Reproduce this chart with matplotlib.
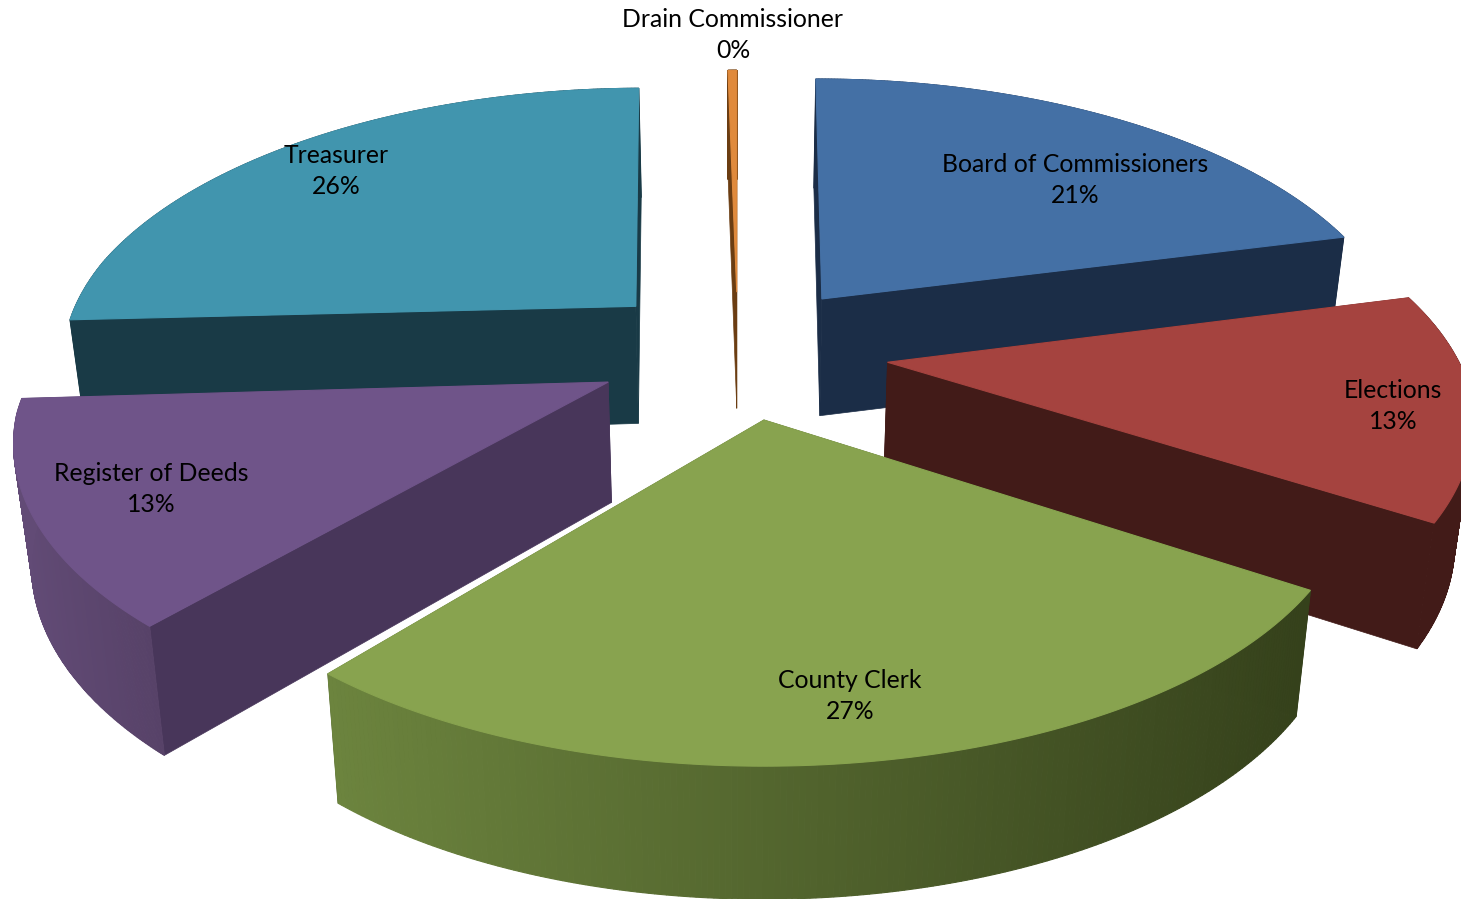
import numpy as np
import matplotlib
matplotlib.use('Agg')
import matplotlib.pyplot as plt
from matplotlib.colors import to_rgb

names = ['Board of Commissioners', 'Elections', 'County Clerk', 'Register of Deeds', 'Treasurer', 'Drain Commissioner']
shares = [21, 13, 27, 13, 26, 0.3]
pct_labels = ['21%', '13%', '27%', '13%', '26%', '0%']
top_colors = ['#4470a5', '#a5433f', '#88a34f', '#6f5489', '#4195ae', '#e08a3c']
side_colors = ['#1b2d47', '#421b18', '#35411b', '#48365a', '#193a46', '#6b3d12']
arc_left = ['#1b2d47', '#421b18', '#6c843e', '#624b76', '#193a46', '#6b3d12']
arc_right = ['#1b2d47', '#421b18', '#35411b', '#574268', '#193a46', '#6b3d12']
explode = 0.25
nudge = [(0, 0), (7, 2), (1, 0), (0, 0), (0, 0), (0, 6)]
radius = [0.99, 1, 1.01, 1.015, 0.98, 1]
# small corrections of the slice edges, degrees
start_shift = [0, 0, 1.5, 2.5, 1.5, 0]
end_shift = [0.5, 0, 0, 1, 0.5, 0]
label_pos = [(1075, 180), (1393, 406), (850, 696), (151, 489), (336, 171), (733, 35)]
draw_order = [4, 5, 0, 1, 3, 2]

# perspective camera, fitted on the picture
cx, cy = 738, 350
rx, ry, persp = 572, 269, 0.213
depth0, depth_pow, inset = 119, 0.46, 0.975


def project(X, Y):
    s = 1 / (1 + persp * Y)
    return rx * X * s, -ry * Y * s, s


def lower(x, y, s):
    return cx + (x - cx) * inset, y + depth0 * s ** depth_pow


fig = plt.figure(figsize=(14.61, 8.99), dpi=100)
ax = fig.add_axes([0, 0, 1, 1])
ax.set_xlim(0, 1461)
ax.set_ylim(899, 0)
ax.axis('off')

edges = np.cumsum([0] + shares) / sum(shares) * 2 * np.pi

for i in draw_order:
    a0, a1 = edges[i], edges[i + 1]
    mid = (a0 + a1) / 2
    off_x, off_y, tip_s = project(explode * np.sin(mid), explode * np.cos(mid))
    tip_x, tip_y = cx + off_x + nudge[i][0], cy + off_y + nudge[i][1]

    t = np.linspace(a0 + np.radians(start_shift[i]), a1 + np.radians(end_shift[i]), 200)
    x, y, s = project(radius[i] * np.sin(t), radius[i] * np.cos(t))
    # far points run towards the middle
    conv = np.minimum(1, (s / tip_s) ** 0.5)
    x, y = cx + off_x * conv + nudge[i][0] + x, tip_y + y
    xb, yb = lower(x, y, s)
    tip_xb, tip_yb = lower(tip_x, tip_y, tip_s)

    # radial walls
    ax.fill([tip_x, x[0], xb[0], tip_xb], [tip_y, y[0], yb[0], tip_yb], color=side_colors[i], lw=0.5)
    ax.fill([tip_x, x[-1], xb[-1], tip_xb], [tip_y, y[-1], yb[-1], tip_yb], color=side_colors[i], lw=0.5)

    # outer wall, cut in strips for the shading
    c_l, c_r = np.array(to_rgb(arc_left[i])), np.array(to_rgb(arc_right[i]))
    for j in range(len(t) - 1):
        f = ((x[j] + x[j + 1]) / 2 - x.min()) / (x.max() - x.min())
        c = c_l + (c_r - c_l) * f
        ax.fill([x[j], x[j + 1], xb[j + 1], xb[j]], [y[j], y[j + 1], yb[j + 1], yb[j]], color=c, lw=0.8)

    ax.fill(np.r_[tip_x, x], np.r_[tip_y, y], color=top_colors[i], lw=0.8)

for name, pct, (lx, ly) in zip(names, pct_labels, label_pos):
    ax.text(lx, ly, name + '\n' + pct, ha='center', va='center', fontsize=17.8, family='Lato',
            color='black', linespacing=1.42, zorder=20)

fig.savefig('out.png', dpi=100)
